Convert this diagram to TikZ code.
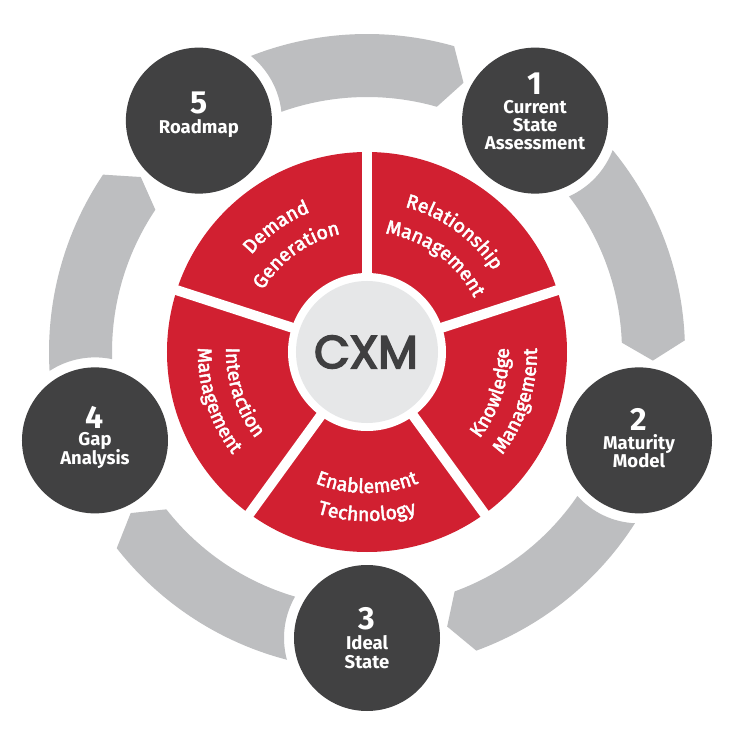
\documentclass[tikz,border=0pt]{standalone}
\usepackage{fontspec}
\setmainfont{Fira Sans}
\newfontfamily\medfam{Fira Sans}[FakeBold=2.5]
\newfontfamily\cxmfont{Poppins}[FakeBold=4]
\usetikzlibrary{decorations.text}
\definecolor{cxred}{HTML}{D12031}
\definecolor{cxdark}{HTML}{414142}
\definecolor{cxarrow}{HTML}{BDBEC0}
\definecolor{cxcore}{HTML}{E6E7E8}
\definecolor{cxtext}{HTML}{3F3F40}
\newcommand\numfont{\bfseries\fontsize{32}{32}\selectfont}
\newcommand\labfont{\bfseries\fontsize{18.5}{18.5}\selectfont}
\newcommand\redfont{\medfam\fontsize{19.5}{19.5}\selectfont}
\begin{document}
\begin{tikzpicture}[x=1pt,y=1pt,
  darkdot/.style={circle, fill=cxdark, minimum size=146pt, inner sep=0pt},
  numtxt/.style={font=\numfont, text=white, anchor=base, inner sep=0pt},
  labtxt/.style={font=\labfont, text=white, anchor=base, inner sep=0pt},
  arrowband/.style={fill=cxarrow},
  wedgegap/.style={draw=white, line width=10pt},
  curvetext/.style={decorate, decoration={text along path, text align=center, text color=white, text={|\redfont|#1}}}
]
\fill[white] (-367,-384) rectangle (364,352);
\useasboundingbox (-367,-384) rectangle (364,352);

% gray arrow bands
\foreach \ang in {126,54,-18,-90,-162}{
  \fill[arrowband] (\ang-14.57:318)
    arc[start angle=\ang-14.57, end angle=\ang-51.9, radius=318]
    -- (\ang-55.72:286) -- (\ang-51.9:255)
    arc[start angle=\ang-51.9, end angle=\ang-16.39, radius=255]
    arc[start angle=\ang-119.9, end angle=\ang-74.78, radius=83]
    -- cycle;
}

% red pie
\fill[cxred] (0,0) circle (200);
\foreach \ang in {90,18,-54,-126,162}{
  \draw[wedgegap] (0,0) -- (\ang:202);
}
\fill[white] (0,0) circle (79);
\node[circle, fill=cxcore, minimum size=142pt, inner sep=0pt] (core) at (0,0) {};
\node[font=\cxmfont\fontsize{46}{46}\selectfont, text=cxtext, inner sep=0pt] (cxm) at (-1,0) {CXM};

% curved wedge labels
\path[curvetext=Demand] (176:151) arc[start angle=176, end angle=76, radius=151];
\path[curvetext=Generation] (176:121) arc[start angle=176, end angle=76, radius=121];
\path[curvetext=Relationship] (104:150) arc[start angle=104, end angle=4, radius=150];
\path[curvetext=Management] (104:120) arc[start angle=104, end angle=4, radius=120];
\path[curvetext=Knowledge] (-68:142) arc[start angle=-68, end angle=32, radius=142];
\path[curvetext=Management] (-68:170) arc[start angle=-68, end angle=32, radius=170];
\path[curvetext=Enablement] (-140:141) arc[start angle=-140, end angle=-40, radius=141];
\path[curvetext=Technology] (-140:169) arc[start angle=-140, end angle=-40, radius=169];
\path[curvetext=Interaction] (148:141) arc[start angle=148, end angle=248, radius=141];
\path[curvetext=Management] (148:169) arc[start angle=148, end angle=248, radius=169];

% dark step circles
\node[darkdot] (c1) at (54:286) {};
\node[darkdot] (c2) at (-18:286) {};
\node[darkdot] (c3) at (-90:286) {};
\node[darkdot] (c4) at (198:286) {};
\node[darkdot] (c5) at (126:286) {};

\node[numtxt] (n1) at (168.1,257) {1};
\node[labtxt] (l1a) at (168.1,238.7) {Current};
\node[labtxt] (l1b) at (168.1,220.3) {State};
\node[labtxt] (l1c) at (168.1,202) {Assessment};

\node[numtxt] (n2) at (272,-78) {2};
\node[labtxt] (l2a) at (272,-97.7) {Maturity};
\node[labtxt] (l2b) at (272,-115.3) {Model};

\node[numtxt] (n3) at (0,-277.7) {3};
\node[labtxt] (l3a) at (0,-297.7) {Ideal};
\node[labtxt] (l3b) at (0,-316) {State};

\node[numtxt] (n4) at (-272,-76) {4};
\node[labtxt] (l4a) at (-272,-93.3) {Gap};
\node[labtxt] (l4b) at (-272,-112.7) {Analysis};

\node[numtxt] (n5) at (-168.1,238.7) {5};
\node[labtxt] (l5a) at (-168.1,218.7) {Roadmap};
\end{tikzpicture}
\end{document}
